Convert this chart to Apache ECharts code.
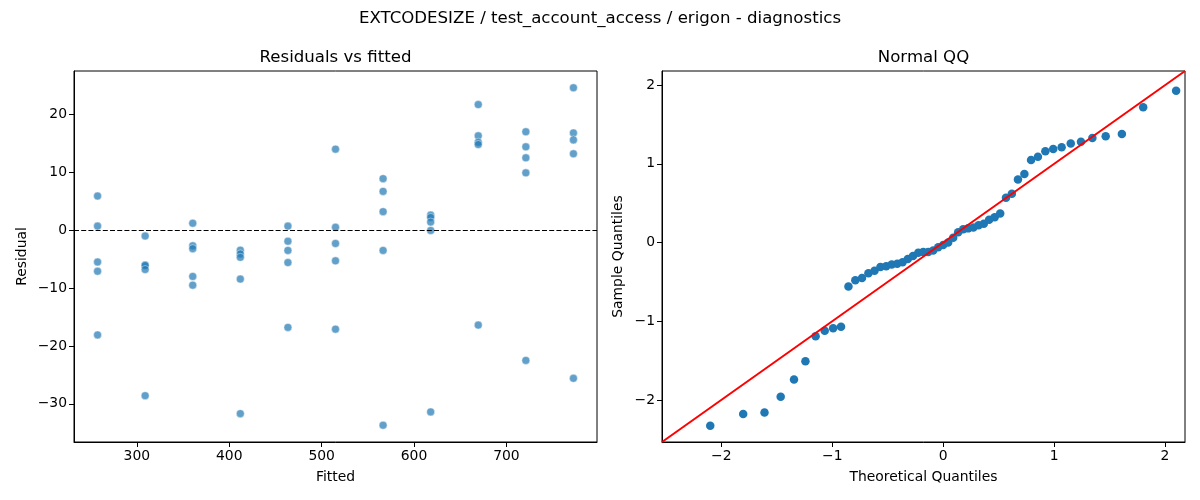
<!DOCTYPE html>
<html>
<head>
<meta charset="utf-8">
<script src="https://cdn.jsdelivr.net/npm/echarts@6/dist/echarts.min.js"></script>
<style>
  html, body { margin: 0; padding: 0; background: #fff; }
  #chart { width: 1200px; height: 500px; }
</style>
</head>
<body>
<div id="chart"></div>
<script>
// fitted value of each group (x of the left panel)
const fitted = [257.5, 309, 360.5, 412, 463.5, 515, 566.5, 618, 669.5, 721, 772.5];
// residuals of each group, 5 runs per group
const residuals = [
    [5.9, 0.7, -5.5, -7.1, -18.1],
    [-1.0, -6.0, -6.1, -6.8, -28.6],
    [1.2, -2.7, -3.2, -8.0, -9.5],
    [-3.45, -4.1, -4.7, -8.45, -31.7],
    [0.7, -1.9, -3.5, -5.6, -16.8],
    [14.0, 0.5, -2.3, -5.3, -17.1],
    [8.9, 6.7, 3.2, -3.5, -33.7],
    [2.6, 2.2, 1.4, -0.05, -31.4],
    [21.7, 16.3, 15.2, 14.8, -16.4],
    [17.0, 14.4, 12.5, 9.9, -22.5],
    [24.6, 16.8, 15.6, 13.2, -25.6]
];
// normal QQ panel
const theoretical = [-2.100, -1.803, -1.611, -1.465, -1.345, -1.242, -1.150, -1.068, -0.992, -0.921,
    -0.854, -0.792, -0.732, -0.674, -0.619, -0.566, -0.514, -0.464, -0.414, -0.366,
    -0.319, -0.272, -0.225, -0.180, -0.135, -0.090, -0.045, 0, 0.045, 0.090,
    0.135, 0.180, 0.225, 0.272, 0.319, 0.366, 0.414, 0.464, 0.514, 0.566,
    0.619, 0.674, 0.732, 0.792, 0.854, 0.921, 0.992, 1.068, 1.150, 1.242,
    1.345, 1.465, 1.611, 1.803, 2.100];
const sample = [-2.33, -2.18, -2.16, -1.96, -1.74, -1.51, -1.19, -1.12, -1.09, -1.07,
    -0.56, -0.48, -0.45, -0.39, -0.36, -0.31, -0.30, -0.28, -0.27, -0.25,
    -0.21, -0.17, -0.13, -0.12, -0.12, -0.10, -0.06, -0.03, 0.00, 0.06,
    0.13, 0.17, 0.18, 0.19, 0.22, 0.24, 0.29, 0.32, 0.37, 0.57,
    0.62, 0.80, 0.87, 1.05, 1.09, 1.16, 1.19, 1.21, 1.26, 1.28,
    1.33, 1.35, 1.38, 1.72, 1.93];
// tick labels
const fittedTicks = [300, 400, 500, 600, 700];
const residualTicks = [-30, -20, -10, 0, 10, 20];
const qqTicks = [-2, -1, 0, 1, 2];
const qqRange = [-2.535, 2.18];

const font = 'DejaVu Sans';
const minus = v => String(v).replace('-', '\u2212');

const residualPoints = [];
fitted.forEach((f, i) => residuals[i].forEach(r => residualPoints.push([f, r])));
const qqPoints = theoretical.map((t, i) => [t, sample[i]]);

function axis(extra) {
    return Object.assign({
        type: 'value',
        scale: true,
        splitLine: { show: false },
        axisLine: { show: true, onZero: false, lineStyle: { color: '#000', width: 1 } },
        nameLocation: 'middle',
        nameTextStyle: { color: '#000', fontFamily: font, fontSize: 13.9 }
    }, extra);
}
function ticks(values) {
    return {
        axisTick: { show: true, inside: false, length: 5, lineStyle: { color: '#000' }, customValues: values },
        axisLabel: { color: '#000', fontFamily: font, fontSize: 13.9, margin: 7, formatter: minus, customValues: values }
    };
}
function heading(text, x, y) {
    return {
        type: 'text', x: x, y: y,
        style: { text: text, fill: '#000', font: '16.6px "DejaVu Sans"', align: 'center', verticalAlign: 'middle' }
    };
}

const chart = echarts.init(document.getElementById('chart'));
chart.setOption({
    animation: false,
    backgroundColor: '#fff',
    graphic: [
        heading('EXTCODESIZE / test_account_access / erigon - diagnostics', 600, 19),
        heading('Residuals vs fitted', 335.5, 57.5),
        heading('Normal QQ', 923.5, 57.5)
    ],
    grid: [
        { left: 74, top: 71, width: 523, height: 371, show: true, borderColor: '#000', borderWidth: 1 },
        { left: 662, top: 71, width: 523, height: 371, show: true, borderColor: '#000', borderWidth: 1 }
    ],
    xAxis: [
        axis(Object.assign({ gridIndex: 0, min: 232, max: 798, name: 'Fitted', nameGap: 28 }, ticks(fittedTicks))),
        axis(Object.assign({ gridIndex: 1, min: qqRange[0], max: qqRange[1], name: 'Theoretical Quantiles', nameGap: 28 }, ticks(qqTicks)))
    ],
    yAxis: [
        axis(Object.assign({ gridIndex: 0, min: -36.6, max: 27.5, name: 'Residual', nameGap: 45 }, ticks(residualTicks))),
        axis(Object.assign({ gridIndex: 1, min: qqRange[0], max: qqRange[1], name: 'Sample Quantiles', nameGap: 37 }, ticks(qqTicks)))
    ],
    series: [
        {
            type: 'scatter',
            xAxisIndex: 0,
            yAxisIndex: 0,
            data: residualPoints,
            symbolSize: 8,
            itemStyle: { color: '#1f77b4', opacity: 0.7, borderColor: '#fff', borderWidth: 0.6 },
            markLine: {
                silent: true,
                symbol: 'none',
                label: { show: false },
                lineStyle: { color: '#000', width: 1.2, type: [5, 2.2] },
                data: [{ yAxis: 0 }]
            }
        },
        {
            type: 'line',
            xAxisIndex: 1,
            yAxisIndex: 1,
            data: [[qqRange[0], qqRange[0]], [qqRange[1], qqRange[1]]],
            symbol: 'none',
            lineStyle: { color: '#ff0000', width: 2 },
            z: 3
        },
        {
            type: 'scatter',
            xAxisIndex: 1,
            yAxisIndex: 1,
            data: qqPoints,
            symbolSize: 8.5,
            itemStyle: { color: '#1f77b4', opacity: 1 },
            z: 2
        }
    ]
});
</script>
</body>
</html>
